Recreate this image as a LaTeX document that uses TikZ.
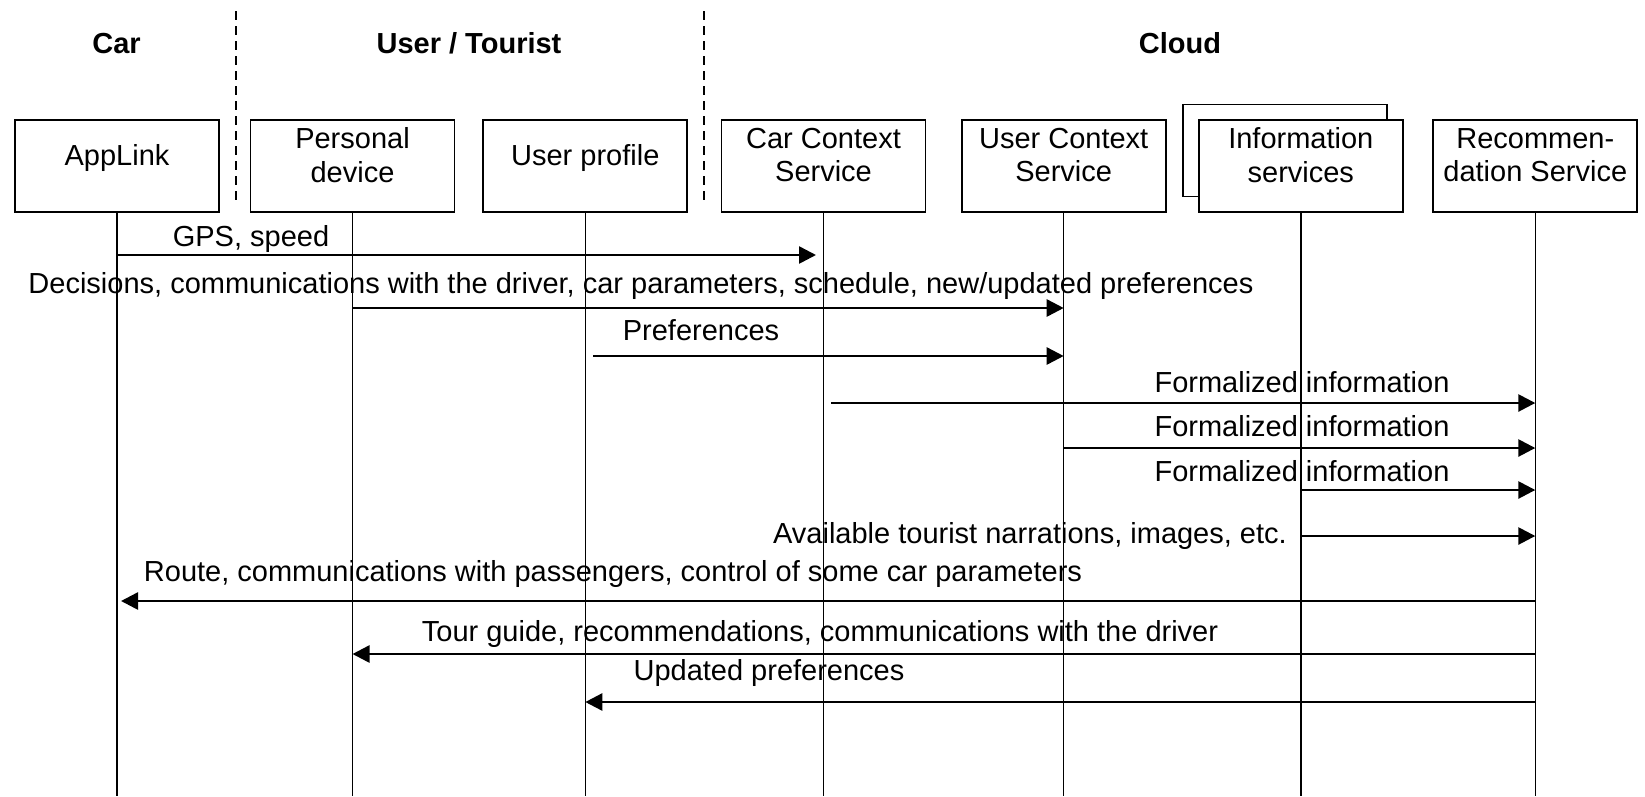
\documentclass[tikz,border=0pt]{standalone}
\usepackage{fontspec}
\setmainfont{Liberation Sans}
\usetikzlibrary{arrows.meta}
\begin{document}
\begin{tikzpicture}[x=1pt,y=-1pt,
  every node/.style={font=\fontsize{29}{33.5}\selectfont},
  actor/.style={draw,line width=1.9pt,fill=white,minimum width=204pt,minimum height=92pt,inner sep=0pt},
  captext/.style={align=center,inner sep=0pt},
  head/.style={font=\fontsize{29}{33.5}\selectfont\bfseries,inner sep=0pt,anchor=base},
  lifeline/.style={line width=1.4pt},
  msg/.style={line width=2.6pt,-{Triangle[length=17pt,width=17pt]}},
  mlabel/.style={inner sep=0pt,anchor=base},
  sep/.style={line width=1.5pt,dash pattern=on 9pt off 6pt}]
\useasboundingbox (0,0) rectangle (1645,796);

% swimlane headings and separators
\node[head] (hcar) at (116.5,53) {Car};
\node[head] (huser) at (469,53) {User / Tourist};
\node[head] (hcloud) at (1180,53) {Cloud};
\coordinate (s1t) at (236,11);
\coordinate (s1b) at (236,205);
\coordinate (s2t) at (704,11);
\coordinate (s2b) at (704,205);
\draw[sep] (s1t) -- (s1b);
\draw[sep] (s2t) -- (s2b);

% participants
\node[actor] (applink) at (117,165.7) {};
\node[actor] (personal) at (352.5,165.7) {};
\node[actor] (profile) at (585.3,165.7) {};
\node[actor] (carctx) at (823.5,165.7) {};
\node[actor] (userctx) at (1063.7,165.7) {};
\node[actor] (infoback) at (1285,150.5) {};
\node[actor] (info) at (1300.8,165.7) {};
\node[actor] (recom) at (1535.3,165.7) {};

\node[captext] (applink-t) at ([yshift=7.5pt]applink.center) {AppLink};
\node[captext] (personal-t) at ([yshift=10.5pt]personal.center) {Personal\\device};
\node[captext] (profile-t) at ([yshift=7.5pt]profile.center) {User profile};
\node[captext] (carctx-t) at ([yshift=10.5pt]carctx.center) {Car Context\\Service};
\node[captext] (userctx-t) at ([yshift=10.5pt]userctx.center) {User Context\\Service};
\node[captext] (info-t) at ([yshift=10.5pt]info.center) {Information\\services};
\node[captext] (recom-t) at ([yshift=10.5pt]recom.center) {Recommen-\\dation Service};

% lifelines
\foreach \p in {applink,personal,profile,carctx,userctx,info,recom}
  \draw[lifeline] (\p.south) -- (\p.south |- 0,796);

% messages
\coordinate (gpsEnd) at (816,255);
\draw[msg] (applink |- 0,255) -- (gpsEnd);
\node[mlabel] (l1) at (251,246) {GPS, speed};

\draw[msg] (personal |- 0,308) -- (userctx |- 0,308);
\node[mlabel] (l2) at (641,293) {Decisions, communications with the driver, car parameters, schedule, new/updated preferences};

\coordinate (prefStart) at (593,356);
\draw[msg] (prefStart) -- (userctx |- 0,356);
\node[mlabel] (l3) at (701,340) {Preferences};

\coordinate (f1Start) at (831,403);
\draw[msg] (f1Start) -- (recom |- 0,403);
\node[mlabel] (l4) at (1302,392) {Formalized information};

\draw[msg] (userctx |- 0,448) -- (recom |- 0,448);
\node[mlabel] (l5) at (1302,436) {Formalized information};

\draw[msg] (info |- 0,490) -- (recom |- 0,490);
\node[mlabel] (l6) at (1302,481) {Formalized information};

\draw[msg] (info |- 0,536) -- (recom |- 0,536);
\node[mlabel,anchor=base east] (l7) at (1287,543) {Available tourist narrations, images, etc.};

\coordinate (routeEnd) at (121,601);
\draw[msg] (recom |- 0,601) -- (routeEnd);
\node[mlabel] (l8) at (613,581) {Route, communications with passengers, control of some car parameters};

\draw[msg] (recom |- 0,654) -- (personal |- 0,654);
\node[mlabel] (l9) at (820,641) {Tour guide, recommendations, communications with the driver};

\draw[msg] (recom |- 0,702) -- (profile |- 0,702);
\node[mlabel] (l10) at (769,680) {Updated preferences};
\end{tikzpicture}
\end{document}
